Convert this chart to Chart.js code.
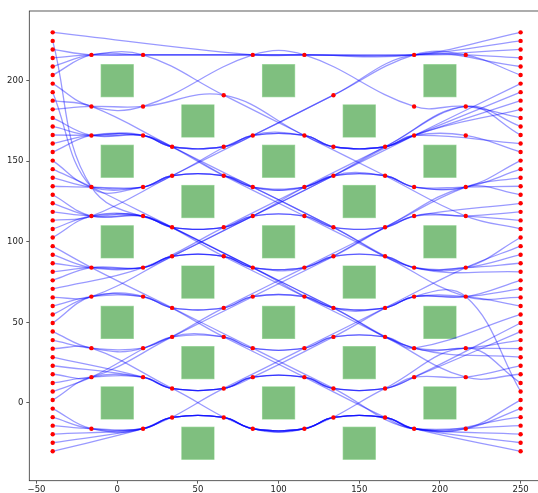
<!DOCTYPE html>
<html>
<head>
<meta charset="utf-8">
<script src="https://cdn.jsdelivr.net/npm/chart.js@4.4.1/dist/chart.umd.min.js"></script>
<style>
  html, body { margin: 0; padding: 0; background: #fff; overflow: hidden; }
  #wrap { width: 550px; height: 493px; }
</style>
</head>
<body>
<div id="wrap"><canvas id="chart" width="550" height="493"></canvas></div>
<script>
// ---- data ----
// 50 start / goal slots on the left (x=-40) and right (x=250) edges
const edgeY = [-30, -24.7, -19.4, -14.1, -8.8, -3.5, 1.8, 7.1, 12.4, 17.8,
  23.1, 28.4, 33.7, 39.0, 44.3, 49.6, 54.9, 60.2, 65.5, 70.8,
  76.1, 81.4, 86.7, 92.0, 97.3, 102.7, 108.0, 113.3, 118.6, 123.9,
  129.2, 134.5, 139.8, 145.1, 150.4, 155.7, 161.0, 166.3, 171.6, 176.9,
  182.2, 187.6, 192.9, 198.2, 203.5, 208.8, 214.1, 219.4, 224.7, 230];
const startX = -40;
const goalX = 250;

// waypoint columns (corners of the inflated obstacles)
const colX = { a: -16, b: 16, c: 34, d: 66, e: 84, f: 116, g: 134, h: 166, i: 184, j: 216 };

// [start slot, goal slot, waypoints]
const routes = [
  [49, 47, 'e216 f216 i216'],
  [48, 12, 'a134 c109 e84 g59 i34 j34'],
  [47, 48, 'a216 b216 e216 f216 i216'],
  [46, 49, 'a216 b216 e216 f216 i216'],
  [45, 26, 'a216 b216 d191 f166 h141 j116'],
  [44, 46, 'a216 b216 e216 f216 i216 j216'],
  [43, 39, 'a184 b184 e216 f216 i184 j184'],
  [42, 22, 'a134 b134 c141 d141 e134 g109 i84 j84'],
  [41, 21, 'a184 c159 e134 g109 i84'],
  [40, 42, 'a184 b184 d191 f166 g159 h159 i166'],
  [39, 41, 'a166 b166 c159 d159 e166 f166 g159 h159 i166'],
  [38, 35, 'a166 b166 c159 d159 e166 f166 g159 h159 i166 j166'],
  [37, 18, 'a166 b166 d141 f116 h91 j66'],
  [36, 33, 'a166 b166 c159 e134 f134 g141 h141 i134 j134'],
  [35, 44, 'a166 b166 c159 d159 e166 g191 i216 j216'],
  [34, 34, 'a134 b134 c141 d141 e134 f134 g141 h141 i134 j134'],
  [33, 11, 'a134 c109 e84 g59 i34'],
  [32, 36, 'a134 b134 c141 e166 f166 g159 h159 i166'],
  [31, 38, 'a134 b134 c141 d141 e134 f134 h159 j184'],
  [30, 29, 'a116 b116 c109 d109 e116 f116 g109 h109 i116'],
  [29, 43, 'a116 b116 c109 d109 e116 g141 i166'],
  [28, 9, 'a116 b116 d91 f66 h41 j16'],
  [27, 45, 'a116 c141 e166 g191 i216'],
  [26, 27, 'a116 b116 c109 d109 e116 f116 g109 h109 i116 j116'],
  [25, 17, 'a116 b116 c109 e84 g59 h59 i66 j66'],
  [24, 4, 'a84 c59 e34 g9 i-16'],
  [23, 25, 'a84 b84 c91 d91 e84 f84 g91 h91 i84 j84'],
  [22, 23, 'a84 b84 c91 d91 e84 f84 g91 h91 i84 j84'],
  [21, 30, 'a84 b84 c91 d91 e84 f84 h109 j134'],
  [20, 31, 'a84 b84 c91 e116 g141 h141 i134 j134'],
  [19, 37, 'b84 d109 f134 h159 j184'],
  [18, 40, 'a66 c91 e116 g141 i166'],
  [17, 20, 'a66 b66 c59 d59 e66 f66 g59 h59 i66 j66'],
  [16, 3, 'a66 b66 d41 f16 h-9 i-16'],
  [15, 19, 'a66 b66 c59 d59 e66 f66 g59 h59 i66 j66'],
  [14, 32, 'a34 b34 d59 f84 h109 j134'],
  [13, 13, 'a34 b34 c41 d41 e34 f34 g41 h41 i34 j34'],
  [12, 2, 'a34 c9 e-16 f-16 g-9 h-9 i-16'],
  [11, 15, 'b16 c9 d9 e16 f16 g9 h9 i16'],
  [10, 10, 'b16 c9 d9 e16 f16 g9 h9 i16 j16'],
  [9, 28, 'a16 c41 e66 g91 i116 j116'],
  [8, 14, 'a16 b16 c9 d9 e16 f16 g9 h9 i16'],
  [7, 16, 'a16 c41 d41 e34 f34 g41 h41 i34'],
  [6, 7, 'a16 b16 c9 d9 e16 g41 i66 j66'],
  [5, 24, 'a-16 b-16 d9 f34 h59 j84'],
  [4, 1, 'a-16 b-16 c-9 d-9 e-16 f-16 g-9 h-9 i-16'],
  [3, 0, 'a-16 b-16 c-9 d-9 e-16 f-16 g-9 h-9 i-16'],
  [2, 6, 'b-16 c-9 d-9 e-16 f-16 g-9 h-9 i-16 j-16'],
  [1, 8, 'b-16 c-9 d-9 e-16 f-16 h9 j34'],
  [0, 5, 'b-16 c-9 d-9 e-16 f-16 g-9 h-9 i-16 j-16']
];

// green obstacles (20 x 20)
const obstacleCols = [0, 50, 100, 150, 200];
const rowsEven = [200, 150, 100, 50, 0];     // columns 0, 100, 200
const rowsOdd = [175, 125, 75, 25, -25];     // columns 50, 150
const obstacleSize = 20;

// ---- build datasets ----
function node(s) {
  return { x: colX[s[0]], y: parseFloat(s.slice(1)) };
}

const pathSets = routes.map(([from, to, via]) => {
  const pts = [{ x: startX, y: edgeY[from] }];
  via.split(' ').forEach(s => pts.push(node(s)));
  pts.push({ x: goalX, y: edgeY[to] });
  return {
    data: pts,
    showLine: true,
    tension: 0.4,
    borderColor: 'rgba(0,0,255,0.4)',
    borderWidth: 1.3,
    pointRadius: 0,
    fill: false,
    order: 1
  };
});

const seen = {};
const dots = [];
pathSets.forEach(ds => ds.data.forEach(p => {
  const k = p.x + ',' + p.y;
  if (!seen[k]) { seen[k] = true; dots.push(p); }
}));

const obstacles = [];
obstacleCols.forEach((cx, i) => {
  (i % 2 === 0 ? rowsEven : rowsOdd).forEach(cy => obstacles.push({ x: cx, y: cy }));
});

const obstaclePlugin = {
  id: 'obstacles',
  beforeDatasetsDraw(chart) {
    const { ctx, scales: { x, y } } = chart;
    const h = obstacleSize / 2;
    ctx.save();
    obstacles.forEach(o => {
      const x0 = x.getPixelForValue(o.x - h), x1 = x.getPixelForValue(o.x + h);
      const y0 = y.getPixelForValue(o.y + h), y1 = y.getPixelForValue(o.y - h);
      ctx.fillStyle = 'rgba(0,128,0,0.5)';
      ctx.fillRect(x0, y0, x1 - x0, y1 - y0);
      ctx.strokeStyle = 'rgba(120,200,120,0.6)';
      ctx.lineWidth = 1;
      ctx.strokeRect(x0, y0, x1 - x0, y1 - y0);
    });
    ctx.restore();
  }
};

const framePlugin = {
  id: 'frame',
  afterDatasetsDraw(chart) {
    const { ctx, chartArea: a } = chart;
    ctx.save();
    ctx.strokeStyle = '#333';
    ctx.lineWidth = 0.8;
    ctx.strokeRect(a.left, a.top, a.right - a.left, a.bottom - a.top);
    ctx.restore();
  }
};

const tickFont = { family: 'DejaVu Sans', size: 8.5 };
const minus = v => String(v).replace('-', '\u2212');

new Chart(document.getElementById('chart'), {
  type: 'scatter',
  data: {
    datasets: [{
      data: dots,
      pointRadius: 2.2,
      pointBackgroundColor: 'red',
      pointBorderWidth: 0,
      showLine: false,
      order: 0
    }].concat(pathSets)
  },
  options: {
    responsive: false,
    animation: false,
    layout: { padding: { left: 0, right: 6, top: 11, bottom: 0 } },
    plugins: { legend: { display: false }, tooltip: { enabled: false } },
    scales: {
      x: {
        type: 'linear', min: -54.5, max: 264.5,
        afterFit: s => { s.height = 12.3; },
        border: { display: false },
        grid: { drawOnChartArea: false, drawTicks: true, tickLength: 3, color: '#333', lineWidth: 0.8 },
        ticks: { stepSize: 50, includeBounds: false, padding: 1, color: '#222', font: tickFont,
                 maxRotation: 0, callback: minus }
      },
      y: {
        type: 'linear', min: -48.25, max: 243.25,
        afterFit: s => { s.width = 29.3; },
        border: { display: false },
        grid: { drawOnChartArea: false, drawTicks: true, tickLength: 3, color: '#333', lineWidth: 0.8 },
        ticks: { stepSize: 50, includeBounds: false, padding: 3, color: '#222', font: tickFont,
                 callback: minus }
      }
    }
  },
  plugins: [obstaclePlugin, framePlugin]
});
</script>
</body>
</html>
